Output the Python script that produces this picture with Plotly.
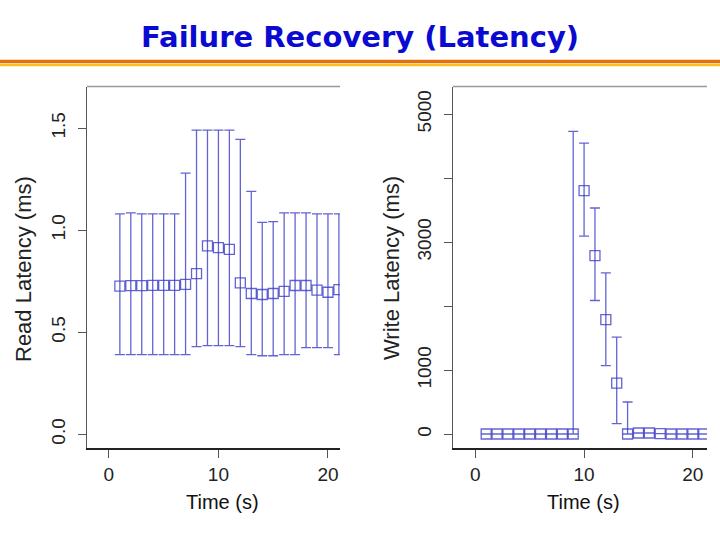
import plotly.graph_objects as go

# time steps (s)
time_s = list(range(1, 22))

# read latency (ms): mean, upper and lower end of the bars
read_mean = [0.726, 0.728, 0.728, 0.730, 0.730, 0.730, 0.735, 0.787, 0.923, 0.915, 0.906,
             0.742, 0.690, 0.685, 0.690, 0.700, 0.729, 0.729, 0.706, 0.696, 0.709]
read_hi = [1.08, 1.085, 1.08, 1.08, 1.08, 1.08, 1.28, 1.49, 1.49, 1.49, 1.49,
           1.445, 1.19, 1.038, 1.042, 1.085, 1.085, 1.085, 1.08, 1.08, 1.08]
read_lo = [0.39, 0.39, 0.39, 0.39, 0.39, 0.39, 0.39, 0.43, 0.435, 0.435, 0.435,
           0.43, 0.39, 0.385, 0.385, 0.39, 0.39, 0.425, 0.425, 0.425, 0.39]

# write latency (ms)
write_mean = [5, 5, 5, 5, 5, 5, 5, 5, 5, 3805, 2790, 1790, 800,
              5, 20, 20, 10, 5, 5, 5, 5]
write_hi = [5, 5, 5, 5, 5, 5, 5, 5, 4730, 4548, 3534, 2521, 1518,
            504, 20, 20, 10, 5, 5, 5, 5]
write_lo = [5, 5, 5, 5, 5, 5, 5, 5, 5, 3093, 2089, 1071, 166,
            5, 20, 20, 10, 5, 5, 5, 5]

read_ticks = [0.0, 0.5, 1.0, 1.5]
read_ticktext = ["0.0", "0.5", "1.0", "1.5"]
write_ticks = [0, 1000, 2000, 3000, 4000, 5000]
write_ticktext = ["0", "1000", "", "3000", "", "5000"]
x_ticks = [0, 10, 20]

BLUE = "rgba(60,60,200,0.8)"
AXIS = "#555555"
FONT = "Liberation Sans, Arial, sans-serif"
W, H = 720, 540


def px(x, y):
    # pixel position (from top-left) -> paper coords
    return x / W, 1 - y / H


def err_trace(x, mean, hi, lo, xa, ya):
    plus = [h - m for h, m in zip(hi, mean)]
    minus = [m - l for m, l in zip(mean, lo)]
    return go.Scatter(
        x=x, y=mean, mode="markers", xaxis=xa, yaxis=ya,
        marker=dict(symbol="square-open", size=10, color=BLUE, line=dict(width=1.3)),
        error_y=dict(type="data", symmetric=False, array=plus, arrayminus=minus,
                     color=BLUE, thickness=1.3, width=5),
        showlegend=False, hoverinfo="skip",
    )


fig = go.Figure()
fig.add_trace(err_trace(time_s, read_mean, read_hi, read_lo, "x", "y"))
fig.add_trace(err_trace(time_s, write_mean, write_hi, write_lo, "x2", "y2"))

ydom = [1 - 448 / H, 1 - 86.5 / H]
xcommon = dict(showgrid=False, zeroline=False, showline=True, linecolor="#222222",
               linewidth=1.5, ticks="outside", ticklen=8, tickcolor=AXIS,
               tickvals=x_ticks, tickfont=dict(family=FONT, size=19, color="#222222"),
               ticklabelstandoff=0)
ycommon = dict(showgrid=False, zeroline=False, showline=True, linecolor=AXIS,
               linewidth=1.2, ticks="outside", ticklen=8, tickcolor=AXIS,
               tickangle=-90, tickfont=dict(family=FONT, size=19, color="#222222"),
               ticklabelstandoff=5, domain=ydom)

fig.update_layout(
    width=W, height=H, margin=dict(l=0, r=0, t=0, b=0),
    paper_bgcolor="white", plot_bgcolor="white",
    xaxis=dict(domain=[87 / W, 340 / W], range=[-2.0, 21.1], anchor="y", **xcommon),
    yaxis=dict(range=[-0.067, 1.704], tickvals=read_ticks, ticktext=read_ticktext,
               anchor="x", **ycommon),
    xaxis2=dict(domain=[453 / W, 707 / W], range=[-2.05, 21.3], anchor="y2", **xcommon),
    yaxis2=dict(range=[-214, 5431], tickvals=write_ticks, ticktext=write_ticktext,
                anchor="x2", **ycommon),
)

# top edge of each plot box
for xa, ya in (("x", "y"), ("x2", "y2")):
    fig.add_shape(type="line", xref=f"{xa} domain", yref=f"{ya} domain",
                  x0=0, x1=1, y0=1, y1=1, line=dict(color="#999999", width=1.5))

# slide title and rule
tx, ty = px(360, 37)
fig.add_annotation(text="<b>Failure Recovery (Latency)</b>", xref="paper", yref="paper",
                   x=tx, y=ty, xanchor="center", yanchor="middle", showarrow=False,
                   font=dict(family="DejaVu Sans", size=29, color="#0a0ad0"))
fig.add_shape(type="line", xref="paper", yref="paper", x0=0, x1=1,
              y0=1 - 61.5 / H, y1=1 - 61.5 / H, line=dict(color="#e07010", width=3.5))
fig.add_shape(type="line", xref="paper", yref="paper", x0=0, x1=1,
              y0=1 - 65 / H, y1=1 - 65 / H, line=dict(color="#f5c020", width=2.5))

# axis titles
for text, cx, cy in (("Read Latency (ms)", 23, 269), ("Write Latency (ms)", 392, 268)):
    ax, ay = px(cx, cy)
    fig.add_annotation(text=text, xref="paper", yref="paper", x=ax, y=ay,
                       xanchor="center", yanchor="middle", textangle=-90, showarrow=False,
                       font=dict(family=FONT, size=22, color="#222222"))
for cx in (222, 583):
    ax, ay = px(cx, 502)
    fig.add_annotation(text="Time (s)", xref="paper", yref="paper", x=ax, y=ay,
                       xanchor="center", yanchor="middle", showarrow=False,
                       font=dict(family=FONT, size=20, color="#111111"))

# drop the browser's default body margin so the figure sits at the window corner
fig.write_html("out.html", config={"displayModeBar": False},
               post_script="document.body.style.margin='0';")
